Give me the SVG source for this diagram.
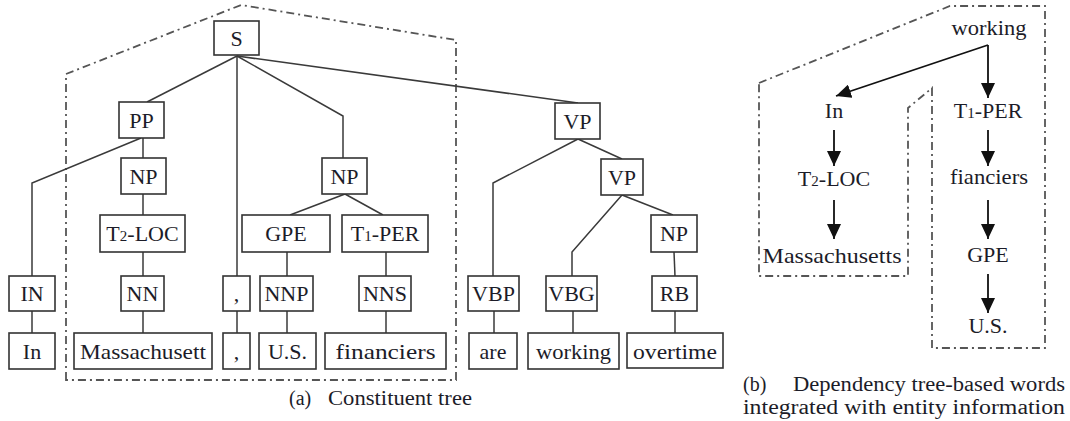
<svg xmlns="http://www.w3.org/2000/svg" width="1070" height="421" viewBox="0 0 1070 421">
<style>
.bx{fill:#fff;stroke:#333;stroke-width:1.6}
.t{fill:#1c1c28;text-anchor:middle}
.cap{fill:#1c1c28}
.ln{fill:none;stroke:#3a3a3a;stroke-width:1.5}
.ar{fill:none;stroke:#111;stroke-width:1.8}
.dd{fill:none;stroke:#555;stroke-width:1.8;stroke-dasharray:8 4 2 4}
</style>
<defs>
<marker id="ah" markerUnits="userSpaceOnUse" markerWidth="16" markerHeight="14" refX="15" refY="7" orient="auto">
<path d="M0,0 L15,7 L0,14 Z" fill="#111"/>
</marker>
</defs>
<g id="outlines">
<path class="dd" d="M66,380 V74 L241,5 L456,40 V380 Z"/>
<path class="dd" d="M759,83 L950,6 H1045 V348 H932 V88 L908,108 V276 H759 Z"/>
</g>
<g id="connectors">
<path class="ln" d="M237,56 L147,102"/>
<path class="ln" d="M237,56 V276"/>
<path class="ln" d="M237,56 L343,116 V158"/>
<path class="ln" d="M237,56 L578,103"/>
<path class="ln" d="M143,138 V158"/>
<path class="ln" d="M141,138 L32,183 V276"/>
<path class="ln" d="M143,194 V215"/>
<path class="ln" d="M143,252 V276"/>
<path class="ln" d="M143,311 V333"/>
<path class="ln" d="M32,311 V333"/>
<path class="ln" d="M237,311 V333"/>
<path class="ln" d="M345,194 L290,215"/>
<path class="ln" d="M345,194 L383,215"/>
<path class="ln" d="M287,252 V276"/>
<path class="ln" d="M287,311 V333"/>
<path class="ln" d="M386,252 V276"/>
<path class="ln" d="M386,311 V333"/>
<path class="ln" d="M578,139 L493,183 V276"/>
<path class="ln" d="M578,139 L622,159"/>
<path class="ln" d="M494,311 V333"/>
<path class="ln" d="M622,195 L572,252 V276"/>
<path class="ln" d="M622,195 L673,215"/>
<path class="ln" d="M674,252 L675,276"/>
<path class="ln" d="M573,311 V333"/>
<path class="ln" d="M675,311 V333"/>
<path class="ar" d="M988,45 L836,96" marker-end="url(#ah)"/>
<path class="ar" d="M988,45 V98" marker-end="url(#ah)"/>
<path class="ar" d="M834,130 V166" marker-end="url(#ah)"/>
<path class="ar" d="M988,130 V166" marker-end="url(#ah)"/>
<path class="ar" d="M834,200 V239" marker-end="url(#ah)"/>
<path class="ar" d="M988,200 V239" marker-end="url(#ah)"/>
<path class="ar" d="M988,274 V313" marker-end="url(#ah)"/>
</g>
<g id="n-S"><rect class="bx" x="214" y="21" width="45" height="34"/><text class="t" font-family="Liberation Serif" font-size="22" x="236.5" y="45.5">S</text></g>
<g id="n-PP"><rect class="bx" x="119" y="102" width="45" height="36"/><text class="t" font-family="Liberation Serif" font-size="22" x="141.5" y="127.5">PP</text></g>
<g id="n-NP1"><rect class="bx" x="121" y="158" width="45" height="36"/><text class="t" font-family="Liberation Serif" font-size="22" x="143.5" y="183.5">NP</text></g>
<g id="n-NP2"><rect class="bx" x="322" y="158" width="45" height="36"/><text class="t" font-family="Liberation Serif" font-size="22" x="344.5" y="183.5">NP</text></g>
<g id="n-VP1"><rect class="bx" x="555" y="103" width="45" height="36"/><text class="t" font-family="Liberation Serif" font-size="22" x="577.5" y="128.5">VP</text></g>
<g id="n-VP2"><rect class="bx" x="601" y="159" width="42" height="36"/><text class="t" font-family="Liberation Serif" font-size="22" x="622" y="184.5">VP</text></g>
<g id="n-T2LOC"><rect class="bx" x="100" y="215" width="85" height="37"/><text class="t" font-family="Liberation Serif" font-size="22" x="142.5" y="241">T<tspan font-size="15">2</tspan>-LOC</text></g>
<g id="n-GPE"><rect class="bx" x="242" y="215" width="88" height="37"/><text class="t" font-family="Liberation Serif" font-size="22" x="286" y="241">GPE</text></g>
<g id="n-T1PER"><rect class="bx" x="342" y="215" width="86" height="37"/><text class="t" font-family="Liberation Serif" font-size="22" x="385" y="241">T<tspan font-size="15">1</tspan>-PER</text></g>
<g id="n-NP3"><rect class="bx" x="651" y="215" width="46" height="37"/><text class="t" font-family="Liberation Serif" font-size="22" x="674" y="241">NP</text></g>
<g id="n-IN"><rect class="bx" x="9" y="276" width="46" height="35"/><text class="t" font-family="Liberation Serif" font-size="22" x="32" y="301">IN</text></g>
<g id="n-NN"><rect class="bx" x="121" y="276" width="43" height="35"/><text class="t" font-family="Liberation Serif" font-size="22" x="142.5" y="301">NN</text></g>
<g id="n-comma1"><rect class="bx" x="223" y="276" width="27" height="35"/><text class="t" font-family="Liberation Serif" font-size="22" x="236.5" y="301">,</text></g>
<g id="n-NNP"><rect class="bx" x="260" y="276" width="53" height="35"/><text class="t" font-family="Liberation Serif" font-size="22" x="286.5" y="301">NNP</text></g>
<g id="n-NNS"><rect class="bx" x="359" y="276" width="52" height="35"/><text class="t" font-family="Liberation Serif" font-size="22" x="385" y="301">NNS</text></g>
<g id="n-VBP"><rect class="bx" x="468" y="276" width="51" height="35"/><text class="t" font-family="Liberation Serif" font-size="22" x="493.5" y="301">VBP</text></g>
<g id="n-VBG"><rect class="bx" x="546" y="276" width="51" height="35"/><text class="t" font-family="Liberation Serif" font-size="22" x="571.5" y="301">VBG</text></g>
<g id="n-RB"><rect class="bx" x="652" y="276" width="45" height="35"/><text class="t" font-family="Liberation Serif" font-size="22" x="674.5" y="301">RB</text></g>
<g id="n-In"><rect class="bx" x="9" y="333" width="46" height="36"/><text class="t" font-family="Liberation Serif" font-size="22" x="32" y="359">In</text></g>
<g id="n-Mass"><rect class="bx" x="74" y="333" width="138" height="36"/><text class="t" font-family="Liberation Serif" font-size="22" x="143" y="359" textLength="126" lengthAdjust="spacingAndGlyphs">Massachusett</text></g>
<g id="n-comma2"><rect class="bx" x="223" y="333" width="27" height="36"/><text class="t" font-family="Liberation Serif" font-size="22" x="236.5" y="359">,</text></g>
<g id="n-US"><rect class="bx" x="259" y="333" width="57" height="36"/><text class="t" font-family="Liberation Serif" font-size="22" x="287.5" y="359">U.S.</text></g>
<g id="n-financiers"><rect class="bx" x="325" y="333" width="121" height="36"/><text class="t" font-family="Liberation Serif" font-size="22" x="385.5" y="359" textLength="100" lengthAdjust="spacingAndGlyphs">financiers</text></g>
<g id="n-are"><rect class="bx" x="469" y="333" width="48" height="36"/><text class="t" font-family="Liberation Serif" font-size="22" x="493" y="359">are</text></g>
<g id="n-working"><rect class="bx" x="528" y="333" width="91" height="36"/><text class="t" font-family="Liberation Serif" font-size="22" x="573.5" y="359" textLength="75" lengthAdjust="spacingAndGlyphs">working</text></g>
<g id="n-overtime"><rect class="bx" x="627" y="333" width="96" height="35"/><text class="t" font-family="Liberation Serif" font-size="22" x="675" y="359" textLength="84" lengthAdjust="spacingAndGlyphs">overtime</text></g>
<g id="d-working"><text class="t" font-family="Liberation Serif" font-size="22" x="989" y="35" textLength="75" lengthAdjust="spacingAndGlyphs">working</text></g>
<g id="d-In"><text class="t" font-family="Liberation Serif" font-size="22" x="834" y="118">In</text></g>
<g id="d-T1PER"><text class="t" font-family="Liberation Serif" font-size="22" x="988" y="118">T<tspan font-size="15">1</tspan>-PER</text></g>
<g id="d-T2LOC"><text class="t" font-family="Liberation Serif" font-size="22" x="834" y="186">T<tspan font-size="15">2</tspan>-LOC</text></g>
<g id="d-fianciers"><text class="t" font-family="Liberation Serif" font-size="22" x="989" y="184" textLength="78" lengthAdjust="spacingAndGlyphs">fianciers</text></g>
<g id="d-Mass"><text class="t" font-family="Liberation Serif" font-size="22" x="832" y="263" textLength="139" lengthAdjust="spacingAndGlyphs">Massachusetts</text></g>
<g id="d-GPE"><text class="t" font-family="Liberation Serif" font-size="22" x="988" y="262">GPE</text></g>
<g id="d-US"><text class="t" font-family="Liberation Serif" font-size="22" x="988" y="333">U.S.</text></g>
<g id="captions">
<text class="cap" font-family="Liberation Serif" font-size="20" x="289" y="405">(a)</text>
<text class="cap" font-family="Liberation Serif" font-size="20" x="328" y="405" textLength="144" lengthAdjust="spacingAndGlyphs">Constituent tree</text>
<text class="cap" font-family="Liberation Serif" font-size="20" x="743" y="391">(b)</text>
<text class="cap" font-family="Liberation Serif" font-size="20" x="793" y="391" textLength="272" lengthAdjust="spacingAndGlyphs">Dependency tree-based words</text>
<text class="cap" font-family="Liberation Serif" font-size="20" x="743" y="414" textLength="322" lengthAdjust="spacingAndGlyphs">integrated with entity information</text>
</g>
</svg>
